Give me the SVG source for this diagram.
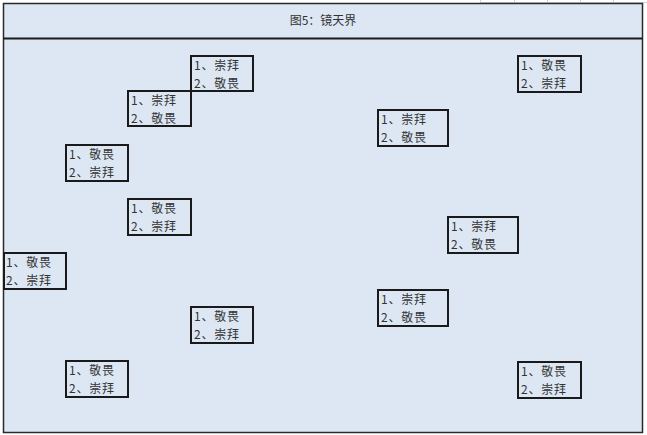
<svg xmlns="http://www.w3.org/2000/svg" width="647" height="435" viewBox="0 0 647 435">
<style>
.bg{fill:#dce7f3;stroke:#2a2a2a;stroke-width:1.5}
.box{fill:#dce7f3;stroke:#1a1a1a;stroke-width:2}
.t{font-family:"Noto Sans CJK SC","Liberation Sans",sans-serif;font-size:12px;fill:#333;letter-spacing:0.8px}
.title{font-family:"Noto Sans CJK SC","Liberation Sans",sans-serif;font-size:12px;fill:#333;text-anchor:middle}
.grid{stroke:#d0d0d0;stroke-width:1;fill:none}
</style>
<rect x="0" y="0" width="647" height="435" fill="#ffffff"/>
<g id="grid">
<path class="grid" d="M480 2.5H647M480.5 0V3M514.5 0V3M547.5 0V3M580.5 0V3M613.5 0V3"/>
</g>
<g id="frame">
<rect class="bg" x="3.5" y="3.5" width="639" height="429"/>
<line x1="3.5" y1="38.5" x2="642.5" y2="38.5" stroke="#1a1a1a" stroke-width="2"/>
<text class="title" x="323" y="25">图5：镜天界</text>
</g>
<g id="connectors"></g>
<g id="n1"><rect class="box" x="191" y="56" width="62" height="35"/><text class="t" x="194" y="70">1、崇拜</text><text class="t" x="194" y="88">2、敬畏</text></g>
<g id="n2"><rect class="box" x="128" y="91" width="63" height="35"/><text class="t" x="131" y="105">1、崇拜</text><text class="t" x="131" y="123">2、敬畏</text></g>
<g id="n3"><rect class="box" x="66" y="145" width="62" height="36"/><text class="t" x="69" y="159">1、敬畏</text><text class="t" x="69" y="177">2、崇拜</text></g>
<g id="n4"><rect class="box" x="128" y="199" width="63" height="36"/><text class="t" x="131" y="213">1、敬畏</text><text class="t" x="131" y="231">2、崇拜</text></g>
<g id="n5"><rect class="box" x="4" y="253" width="62" height="36"/><text class="t" x="6" y="267">1、敬畏</text><text class="t" x="6" y="285">2、崇拜</text></g>
<g id="n6"><rect class="box" x="191" y="307" width="62" height="36"/><text class="t" x="194" y="321">1、敬畏</text><text class="t" x="194" y="339">2、崇拜</text></g>
<g id="n7"><rect class="box" x="66" y="361" width="62" height="36"/><text class="t" x="69" y="375">1、敬畏</text><text class="t" x="69" y="393">2、崇拜</text></g>
<g id="n8"><rect class="box" x="518" y="56" width="63" height="36"/><text class="t" x="521" y="70">1、敬畏</text><text class="t" x="521" y="88">2、崇拜</text></g>
<g id="n9"><rect class="box" x="378" y="110" width="70" height="36"/><text class="t" x="381" y="124">1、崇拜</text><text class="t" x="381" y="142">2、敬畏</text></g>
<g id="n10"><rect class="box" x="448" y="217" width="70" height="36"/><text class="t" x="451" y="231">1、崇拜</text><text class="t" x="451" y="249">2、敬畏</text></g>
<g id="n11"><rect class="box" x="378" y="290" width="70" height="36"/><text class="t" x="381" y="304">1、崇拜</text><text class="t" x="381" y="322">2、敬畏</text></g>
<g id="n12"><rect class="box" x="518" y="362" width="63" height="36"/><text class="t" x="521" y="376">1、敬畏</text><text class="t" x="521" y="394">2、崇拜</text></g>
</svg>
